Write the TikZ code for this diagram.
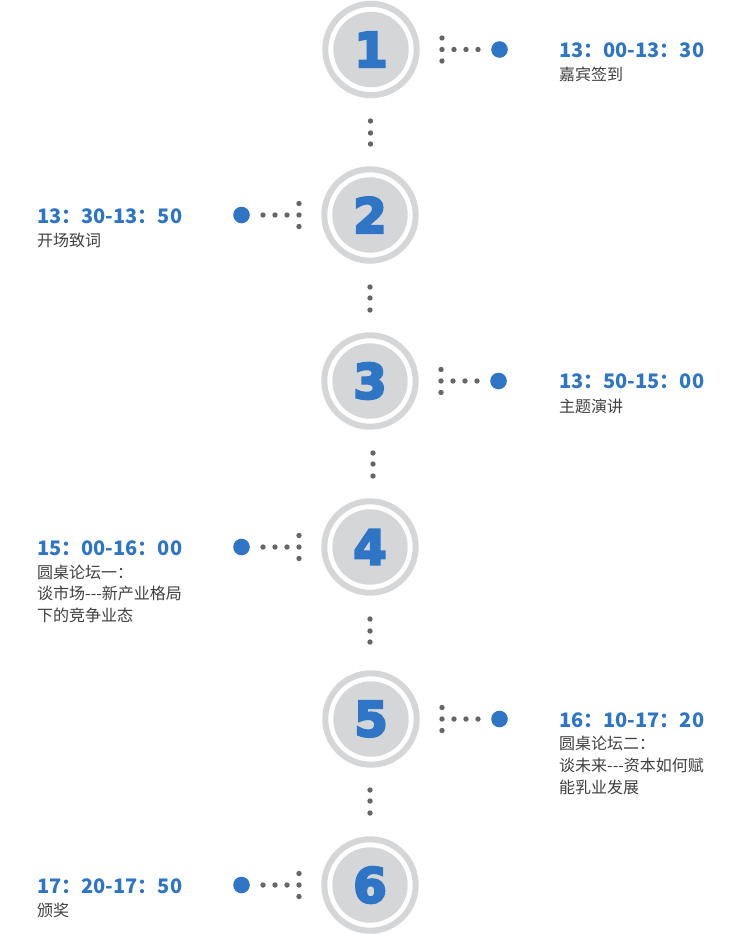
\documentclass[tikz,border=0pt]{standalone}
\usepackage{fontspec}
\usetikzlibrary{calc}
\setmainfont{Noto Sans CJK SC}
\newfontfamily\numfont[FakeBold=5]{DejaVu Sans Bold}
\definecolor{tblue}{HTML}{2E75C6}
\definecolor{ringc}{HTML}{D5D6D8}
\definecolor{dotg}{HTML}{666666}
\definecolor{txtc}{HTML}{404040}
\newcommand\mkstage[4]{% #1 id, #2 x, #3 y, #4 side (1 right, -1 left)
  \node[disc] (c#1) at (#2,#3) {#1};
  \draw[ringline] (c#1.center) circle (45.7pt);
  \foreach \dy in {-11.5,0,11.5} \fill[gdot] ($(c#1.center)+(#4*71,\dy)$) circle (2.7pt);
  \foreach \dx in {83,95,107} \fill[gdot] ($(c#1.center)+(#4*\dx,0)$) circle (2.7pt);
  \node[bdot] (b#1) at ($(c#1.center)+(#4*128.5,0)$) {};
}
\newcommand\mydotcol[4]{% x, y1, y2, y3
  \foreach \yy in {#2,#3,#4} \fill[gdot] (#1,\yy) circle (2.7pt);
}
\begin{document}
\begin{tikzpicture}[x=1pt,y=-1pt,
  disc/.style={circle,fill=ringc,minimum size=75.4pt,inner sep=0pt,text=tblue,font=\numfont\fontsize{48}{48}\selectfont},
  ringline/.style={draw=ringc,line width=6pt},
  gdot/.style={fill=dotg},
  bdot/.style={circle,fill=tblue,minimum size=16.6pt,inner sep=0pt},
  timetxt/.style={anchor=base west,inner sep=0pt,text=tblue,font=\bfseries\fontsize{20}{20}\selectfont},
  subtxt/.style={anchor=base west,inner sep=0pt,text=txtc,font=\fontsize{16}{22}\selectfont}]
\fill[white] (0,0) rectangle (750,934);
\useasboundingbox (0,0) rectangle (750,934);

\mkstage{1}{371}{49.5}{1}
\mkstage{2}{370}{215}{-1}
\mkstage{3}{370}{381}{1}
\mkstage{4}{370}{547}{-1}
\mkstage{5}{371}{719}{1}
\mkstage{6}{370}{885}{-1}

\mydotcol{370.5}{121}{133}{144}
\mydotcol{370}{287}{298}{310}
\mydotcol{373}{453}{464}{476}
\mydotcol{370}{619}{631}{642}
\mydotcol{370}{790}{801}{813}

\node[timetxt] (t1) at (559,57.5) {13：00-13：30};
\node[subtxt] (s1) at (559,81) {嘉宾签到};

\node[timetxt] (t2) at (37,223.5) {13：30-13：50};
\node[subtxt] (s2) at (37,246) {开场致词};

\node[timetxt] (t3) at (559,388.5) {13：50-15：00};
\node[subtxt] (s3) at (559,412) {主题演讲};

\node[timetxt] (t4) at (37,555.5) {15：00-16：00};
\node[subtxt] (s4a) at (37,578) {圆桌论坛一：};
\node[subtxt] (s4b) at (37,599.5) {谈市场-{}-{}-新产业格局};
\node[subtxt] (s4c) at (37,621) {下的竞争业态};

\node[timetxt] (t5) at (559,727.5) {16：10-17：20};
\node[subtxt] (s5a) at (559,749) {圆桌论坛二：};
\node[subtxt] (s5b) at (559,771) {谈未来-{}-{}-资本如何赋};
\node[subtxt] (s5c) at (559,793) {能乳业发展};

\node[timetxt] (t6) at (37,893.5) {17：20-17：50};
\node[subtxt] (s6) at (37,916) {颁奖};
\end{tikzpicture}
\end{document}
